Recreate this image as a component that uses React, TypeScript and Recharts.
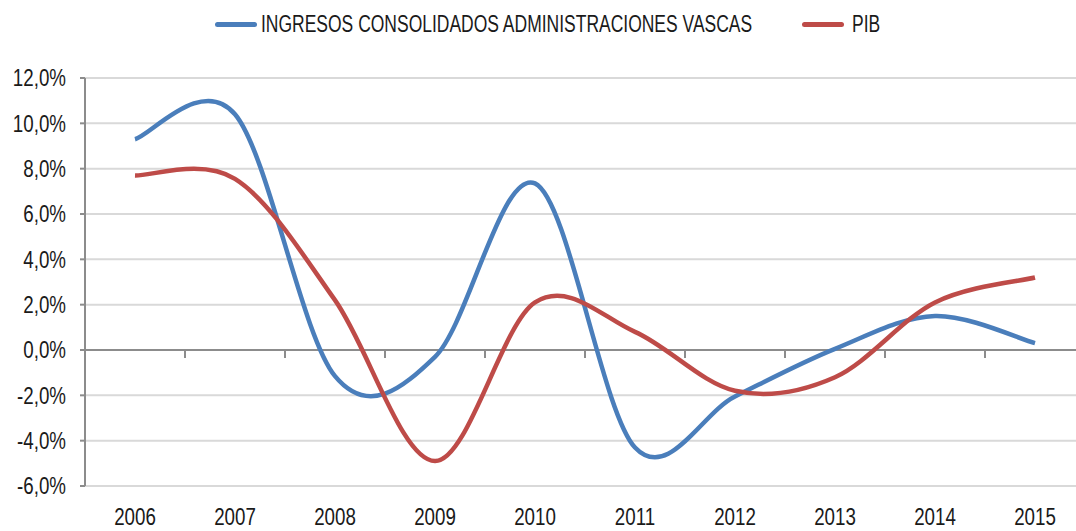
import React from "react";
import {
  CartesianGrid,
  Line,
  LineChart,
  ReferenceLine,
  XAxis,
  YAxis,
} from "recharts";

const years = ["2006", "2007", "2008", "2009", "2010", "2011", "2012", "2013", "2014", "2015"];
const ingresos = [9.3, 10.4, -1.15, -0.3, 7.35, -4.3, -2.05, 0.05, 1.5, 0.3];
const pib = [7.7, 7.55, 2.2, -4.9, 2.1, 0.8, -1.8, -1.2, 2.1, 3.2];
const yTicks = [-6, -4, -2, 0, 2, 4, 6, 8, 10, 12];

const seriesNames = ["INGRESOS CONSOLIDADOS ADMINISTRACIONES VASCAS", "PIB"];
const seriesColors = ["#4a7ebb", "#be4b48"];

const data = years.map((year, i) => ({
  idx: i,
  year,
  ingresos: ingresos[i],
  pib: pib[i],
}));

const FONT = "'Liberation Sans', Arial, sans-serif";
const TEXT = "#1a1a1a";

// Excel-like smoothing: uniform Catmull-Rom spline as a d3 curve factory
const smoothCurve = (context: any) => {
  let pts: number[][] = [];
  return {
    areaStart() {},
    areaEnd() {},
    lineStart() {
      pts = [];
    },
    point(x: number, y: number) {
      pts.push([+x, +y]);
    },
    lineEnd() {
      if (!pts.length) return;
      context.moveTo(pts[0][0], pts[0][1]);
      for (let i = 0; i < pts.length - 1; i++) {
        const p0 = pts[i - 1] || pts[i];
        const p1 = pts[i];
        const p2 = pts[i + 1];
        const p3 = pts[i + 2] || p2;
        context.bezierCurveTo(
          p1[0] + (p2[0] - p0[0]) / 6,
          p1[1] + (p2[1] - p0[1]) / 6,
          p2[0] - (p3[0] - p1[0]) / 6,
          p2[1] - (p3[1] - p1[1]) / 6,
          p2[0],
          p2[1]
        );
      }
    },
  };
};

const fmtPct = (v: number) => v.toFixed(1).replace(".", ",") + "%";

// narrow-looking tick text (the original uses a condensed face)
const YTick = (props: any) => {
  const { x, y, payload } = props;
  return (
    <g transform={`translate(${x},${y})`}>
      <text
        transform="scale(0.815,1)"
        textAnchor="end"
        dy="0.355em"
        fill={TEXT}
        fontSize={23}
        fontFamily={FONT}
      >
        {fmtPct(payload.value)}
      </text>
    </g>
  );
};

const XTick = (props: any) => {
  const { x, y, payload } = props;
  return (
    <g transform={`translate(${x},${y})`}>
      <text
        transform="scale(0.815,1)"
        textAnchor="middle"
        dy="0.71em"
        fill={TEXT}
        fontSize={23}
        fontFamily={FONT}
      >
        {years[payload.value]}
      </text>
    </g>
  );
};

const legendPos = [
  { line: 215, text: 261 },
  { line: 802, text: 852 },
];

const App: React.FC = () => {
  return (
    <div
      style={{
        position: "absolute",
        left: 0,
        top: 0,
        width: 1076,
        height: 531,
        overflow: "hidden",
        background: "#fff",
        fontFamily: FONT,
      }}
    >
      {seriesNames.map((name, i) => (
        <React.Fragment key={name}>
          <div
            style={{
              position: "absolute",
              left: legendPos[i].line,
              top: 22,
              width: 42,
              height: 5,
              borderRadius: 3,
              background: seriesColors[i],
            }}
          />
          <div
            style={{
              position: "absolute",
              left: legendPos[i].text,
              top: 11,
              fontSize: 23,
              lineHeight: "26px",
              color: TEXT,
              whiteSpace: "nowrap",
              transform: "scaleX(0.76)",
              transformOrigin: "left center",
            }}
          >
            {name}
          </div>
        </React.Fragment>
      ))}
      <LineChart
        width={1090}
        height={531}
        data={data}
        margin={{ top: 78, right: 5, left: 0, bottom: 0 }}
      >
        <CartesianGrid vertical={false} stroke="#d9d9d9" strokeWidth={2} />
        <XAxis
          dataKey="idx"
          type="number"
          domain={[-0.5, 9.5]}
          ticks={years.map((_, i) => i)}
          axisLine={false}
          tickLine={false}
          height={45}
          tickMargin={17}
          tick={<XTick />}
        />
        <YAxis
          domain={[-6, 12]}
          ticks={yTicks}
          width={85}
          axisLine={{ stroke: "#8c8c8c", strokeWidth: 2 }}
          tickLine={{ stroke: "#8c8c8c", strokeWidth: 2 }}
          tickSize={5}
          tickMargin={14}
          interval={0}
          tick={<YTick />}
        />
        <ReferenceLine y={0} stroke="#8c8c8c" strokeWidth={2} />
        {years.slice(0, -1).map((_, i) => (
          <ReferenceLine
            key={"t" + i}
            segment={[
              { x: i + 0.5, y: 0 },
              { x: i + 0.5, y: -0.35 },
            ]}
            stroke="#8c8c8c"
            strokeWidth={2}
          />
        ))}
        <Line
          type={smoothCurve as any}
          dataKey="ingresos"
          name={seriesNames[0]}
          stroke={seriesColors[0]}
          strokeWidth={4.5}
          dot={false}
          isAnimationActive={false}
        />
        <Line
          type={smoothCurve as any}
          dataKey="pib"
          name={seriesNames[1]}
          stroke={seriesColors[1]}
          strokeWidth={4.5}
          dot={false}
          isAnimationActive={false}
        />
      </LineChart>
    </div>
  );
};

export default App;
